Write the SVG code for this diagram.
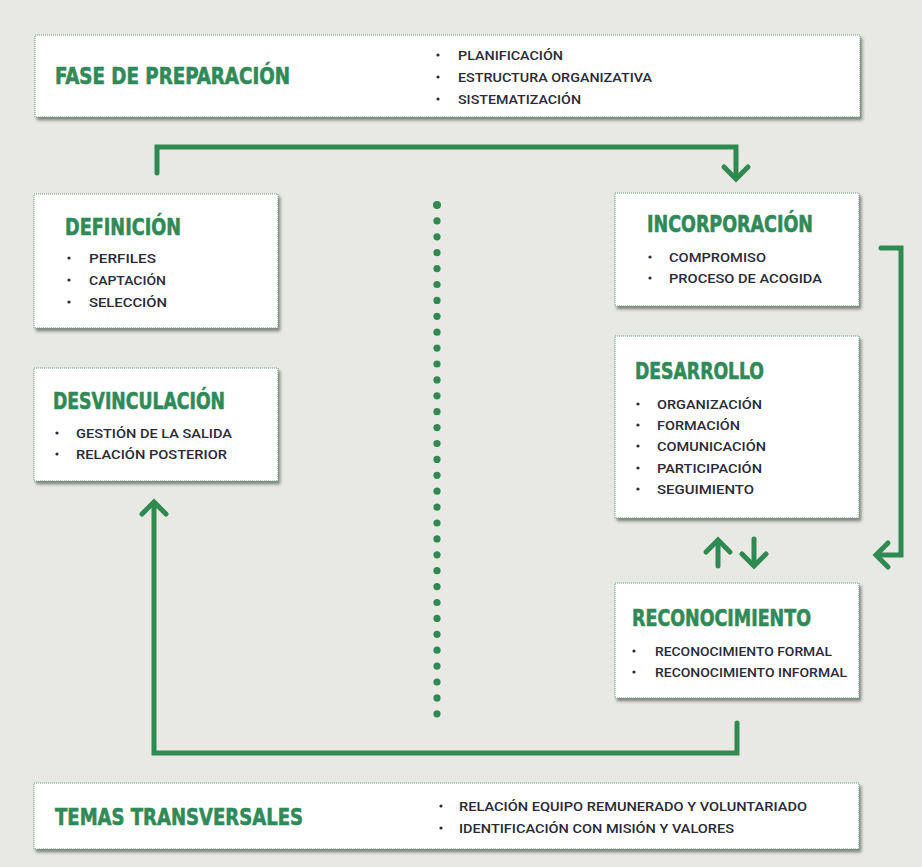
<svg xmlns="http://www.w3.org/2000/svg" width="922" height="867" viewBox="0 0 922 867">
<defs>
<filter id="sh" x="-5%" y="-10%" width="115%" height="130%">
<feDropShadow dx="2" dy="3" stdDeviation="1.8" flood-color="#3a3a3a" flood-opacity="0.6"/>
</filter>
<style>
.box{fill:#ffffff;stroke:#5f9f78;stroke-width:1;stroke-dasharray:1 1;filter:url(#sh)}
.ttl{font-family:"DejaVu Sans Condensed","DejaVu Sans",sans-serif;font-weight:bold;font-size:22.5px;fill:#2f8a57;stroke:#2f8a57;stroke-width:0.6;}
.it{font-family:Roboto,"Liberation Sans",Arial,sans-serif;font-weight:500;font-size:12.5px;fill:#2a2a38;}
.bu{fill:#2a2a38}
.con{fill:none;stroke:#2f8a52;stroke-width:5;stroke-linecap:round;stroke-linejoin:miter}
.dot{fill:#2f8a52}
</style>
</defs>
<rect x="0" y="0" width="922" height="867" fill="#e9e9e4"/>

<g id="connectors">
<path class="con" d="M157,173 V147 H736 V178"/>
<path class="con" d="M724,167 L736,179 L748,167"/>
<path class="con" d="M881,248 H901 V555 H877"/>
<path class="con" d="M888,543 L876,555 L888,567"/>
<path class="con" d="M718,566 V541"/>
<path class="con" d="M706,552 L718,540 L730,552"/>
<path class="con" d="M754,539 V565"/>
<path class="con" d="M742,554 L754,566 L766,554"/>
<path class="con" d="M737,723 V753 H154 V503"/>
<path class="con" d="M142,514 L154,502 L166,514"/>
</g>

<g id="divider">
<circle class="dot" cx="437" cy="205" r="4"/>
<circle class="dot" cx="437" cy="220.9" r="3.6"/>
<circle class="dot" cx="437" cy="236.8" r="3.6"/>
<circle class="dot" cx="437" cy="252.7" r="3.6"/>
<circle class="dot" cx="437" cy="268.6" r="3.6"/>
<circle class="dot" cx="437" cy="284.5" r="3.6"/>
<circle class="dot" cx="437" cy="300.4" r="3.6"/>
<circle class="dot" cx="437" cy="316.3" r="3.6"/>
<circle class="dot" cx="437" cy="332.2" r="3.6"/>
<circle class="dot" cx="437" cy="348.1" r="3.6"/>
<circle class="dot" cx="437" cy="364" r="3.6"/>
<circle class="dot" cx="437" cy="379.9" r="3.6"/>
<circle class="dot" cx="437" cy="395.8" r="3.6"/>
<circle class="dot" cx="437" cy="411.7" r="3.6"/>
<circle class="dot" cx="437" cy="427.6" r="3.6"/>
<circle class="dot" cx="437" cy="443.5" r="3.6"/>
<circle class="dot" cx="437" cy="459.4" r="3.6"/>
<circle class="dot" cx="437" cy="475.3" r="3.6"/>
<circle class="dot" cx="437" cy="491.2" r="3.6"/>
<circle class="dot" cx="437" cy="507.1" r="3.6"/>
<circle class="dot" cx="437" cy="523" r="3.6"/>
<circle class="dot" cx="437" cy="538.9" r="3.6"/>
<circle class="dot" cx="437" cy="554.8" r="3.6"/>
<circle class="dot" cx="437" cy="570.7" r="3.6"/>
<circle class="dot" cx="437" cy="586.6" r="3.6"/>
<circle class="dot" cx="437" cy="602.5" r="3.6"/>
<circle class="dot" cx="437" cy="618.4" r="3.6"/>
<circle class="dot" cx="437" cy="634.3" r="3.6"/>
<circle class="dot" cx="437" cy="650.2" r="3.6"/>
<circle class="dot" cx="437" cy="666.1" r="3.6"/>
<circle class="dot" cx="437" cy="682" r="3.6"/>
<circle class="dot" cx="437" cy="697.9" r="3.6"/>
<circle class="dot" cx="437" cy="713.8" r="3.6"/>
</g>

<g id="fase-preparacion">
<rect class="box" x="35" y="35" width="825" height="82"/>
<text class="ttl" x="55" y="84" textLength="235" lengthAdjust="spacingAndGlyphs">FASE DE PREPARACIÓN</text>
<circle class="bu" cx="438" cy="55" r="1.6"/>
<circle class="bu" cx="438" cy="77" r="1.6"/>
<circle class="bu" cx="438" cy="99" r="1.6"/>
<text class="it" x="458" y="59.5" textLength="105" lengthAdjust="spacingAndGlyphs">PLANIFICACIÓN</text>
<text class="it" x="458" y="81.5" textLength="194" lengthAdjust="spacingAndGlyphs">ESTRUCTURA ORGANIZATIVA</text>
<text class="it" x="458" y="103.5" textLength="123" lengthAdjust="spacingAndGlyphs">SISTEMATIZACIÓN</text>
</g>

<g id="definicion">
<rect class="box" x="34" y="194" width="244" height="134"/>
<text class="ttl" x="65" y="234.5" textLength="116" lengthAdjust="spacingAndGlyphs">DEFINICIÓN</text>
<circle class="bu" cx="69" cy="258" r="1.6"/>
<circle class="bu" cx="69" cy="280" r="1.6"/>
<circle class="bu" cx="69" cy="302" r="1.6"/>
<text class="it" x="89" y="262.5" textLength="67" lengthAdjust="spacingAndGlyphs">PERFILES</text>
<text class="it" x="89" y="284.5" textLength="77" lengthAdjust="spacingAndGlyphs">CAPTACIÓN</text>
<text class="it" x="89" y="306.5" textLength="78" lengthAdjust="spacingAndGlyphs">SELECCIÓN</text>
</g>

<g id="desvinculacion">
<rect class="box" x="34" y="368" width="244" height="113"/>
<text class="ttl" x="53" y="408.5" textLength="172" lengthAdjust="spacingAndGlyphs">DESVINCULACIÓN</text>
<circle class="bu" cx="57" cy="433" r="1.6"/>
<circle class="bu" cx="57" cy="454" r="1.6"/>
<text class="it" x="76" y="437.5" textLength="156" lengthAdjust="spacingAndGlyphs">GESTIÓN DE LA SALIDA</text>
<text class="it" x="76" y="458.5" textLength="151" lengthAdjust="spacingAndGlyphs">RELACIÓN POSTERIOR</text>
</g>

<g id="incorporacion">
<rect class="box" x="615" y="193" width="244" height="113"/>
<text class="ttl" x="647" y="231.5" textLength="166" lengthAdjust="spacingAndGlyphs">INCORPORACIÓN</text>
<circle class="bu" cx="650" cy="257" r="1.6"/>
<circle class="bu" cx="650" cy="278" r="1.6"/>
<text class="it" x="669" y="261.5" textLength="97" lengthAdjust="spacingAndGlyphs">COMPROMISO</text>
<text class="it" x="669" y="282.5" textLength="153" lengthAdjust="spacingAndGlyphs">PROCESO DE ACOGIDA</text>
</g>

<g id="desarrollo">
<rect class="box" x="615" y="336" width="244" height="182"/>
<text class="ttl" x="635" y="378.5" textLength="129" lengthAdjust="spacingAndGlyphs">DESARROLLO</text>
<circle class="bu" cx="638" cy="404" r="1.6"/>
<circle class="bu" cx="638" cy="425" r="1.6"/>
<circle class="bu" cx="638" cy="446" r="1.6"/>
<circle class="bu" cx="638" cy="468" r="1.6"/>
<circle class="bu" cx="638" cy="489" r="1.6"/>
<text class="it" x="657" y="408.5" textLength="105" lengthAdjust="spacingAndGlyphs">ORGANIZACIÓN</text>
<text class="it" x="657" y="429.5" textLength="83" lengthAdjust="spacingAndGlyphs">FORMACIÓN</text>
<text class="it" x="657" y="450.5" textLength="109" lengthAdjust="spacingAndGlyphs">COMUNICACIÓN</text>
<text class="it" x="657" y="472.5" textLength="105" lengthAdjust="spacingAndGlyphs">PARTICIPACIÓN</text>
<text class="it" x="657" y="493.5" textLength="97" lengthAdjust="spacingAndGlyphs">SEGUIMIENTO</text>
</g>

<g id="reconocimiento">
<rect class="box" x="615" y="583" width="244" height="115"/>
<text class="ttl" x="632" y="625.5" textLength="179" lengthAdjust="spacingAndGlyphs">RECONOCIMIENTO</text>
<circle class="bu" cx="634" cy="651" r="1.6"/>
<circle class="bu" cx="634" cy="672" r="1.6"/>
<text class="it" x="655" y="655.5" textLength="177" lengthAdjust="spacingAndGlyphs">RECONOCIMIENTO FORMAL</text>
<text class="it" x="655" y="676.5" textLength="192" lengthAdjust="spacingAndGlyphs">RECONOCIMIENTO INFORMAL</text>
</g>

<g id="temas-transversales">
<rect class="box" x="34" y="783" width="825" height="66"/>
<text class="ttl" x="55" y="824.5" textLength="248" lengthAdjust="spacingAndGlyphs">TEMAS TRANSVERSALES</text>
<circle class="bu" cx="441" cy="806" r="1.6"/>
<circle class="bu" cx="441" cy="828" r="1.6"/>
<text class="it" x="459" y="810.5" textLength="348" lengthAdjust="spacingAndGlyphs">RELACIÓN EQUIPO REMUNERADO Y VOLUNTARIADO</text>
<text class="it" x="459" y="832.5" textLength="275" lengthAdjust="spacingAndGlyphs">IDENTIFICACIÓN CON MISIÓN Y VALORES</text>
</g>
</svg>
